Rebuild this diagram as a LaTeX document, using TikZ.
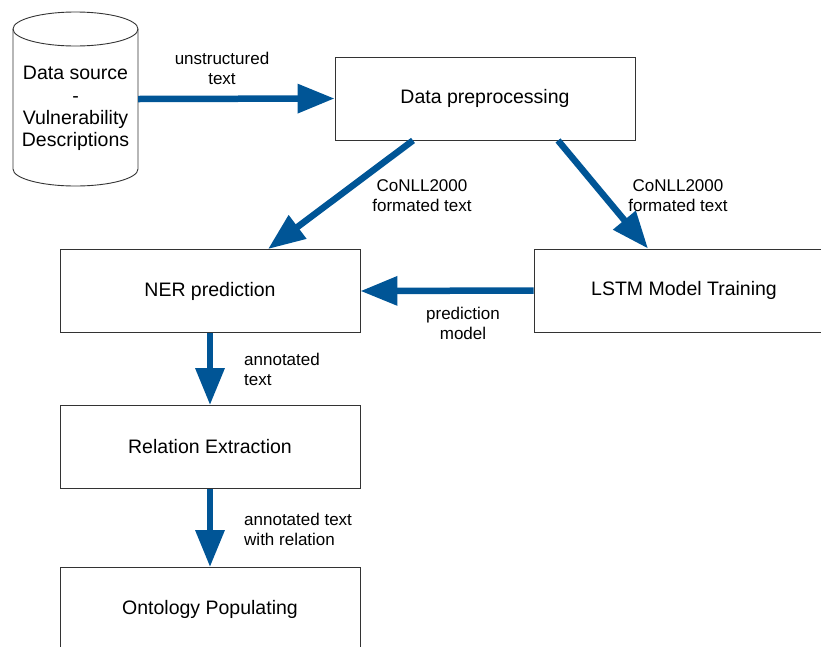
\documentclass[tikz,border=0pt]{standalone}
\usepackage{fontspec}
\setmainfont{Liberation Sans}
\usetikzlibrary{arrows.meta}
\definecolor{flowblue}{RGB}{0,85,150}
\begin{document}
\begin{tikzpicture}[x=1pt,y=-1pt,
  box/.style={draw=black!80,line width=0.9pt,minimum width=300pt,minimum height=83pt,inner sep=0pt,font=\fontsize{19.5}{23}\selectfont},
  flow/.style={draw=flowblue,line width=6.5pt,-{Triangle[length=37pt,width=28pt]}},
  lbl/.style={font=\fontsize{17}{20}\selectfont,align=center,inner sep=0pt}]
\useasboundingbox (0,0) rectangle (821,646);
\draw[black!80,line width=0.9pt] (75.5,29) ellipse [x radius=62.5, y radius=17];
\draw[black!80,line width=0.9pt] (13,29) -- (13,169) arc[start angle=180, end angle=0, x radius=62.5, y radius=17] -- (138,29);
\node[align=center,inner sep=0pt,minimum width=125pt,font=\fontsize{19.5}{22.3}\selectfont] (src) at (75.5,108.5) {Data source\\-\\Vulnerability\\Descriptions};
\node[box] (prep) at (485,98.5) {Data preprocessing};
\node[box] (ner) at (210,291) {NER prediction};
\node[box] (lstm) at (684,290.5) {LSTM Model Training};
\node[box] (rel) at (210,447) {Relation Extraction};
\node[box] (ont) at (210,609) {Ontology Populating};
\draw[flow] ([yshift=9.5pt]src.east) -- (prep.west);
\draw[flow] ([xshift=-72pt]prep.south) -- ([xshift=58pt]ner.north);
\draw[flow] ([xshift=73pt]prep.south) -- ([xshift=-36pt]lstm.north);
\draw[flow] (lstm.west) -- (ner.east);
\draw[flow] (ner.south) -- (rel.north);
\draw[flow] (rel.south) -- (ont.north);
\node[lbl] (lblraw) at (222,68) {unstructured\\text};
\node[lbl] (lblconll) at (422,196) {CoNLL2000\\formated text};
\node[lbl] (lblconlr) at (678,196) {CoNLL2000\\formated text};
\node[lbl] (lblmodel) at (463,323) {prediction\\model};
\node[lbl,anchor=west,align=left] (lblann) at (244,369) {annotated\\text};
\node[lbl,anchor=west,align=left] (lblrel) at (244,529) {annotated text\\with relation};
\end{tikzpicture}
\end{document}
